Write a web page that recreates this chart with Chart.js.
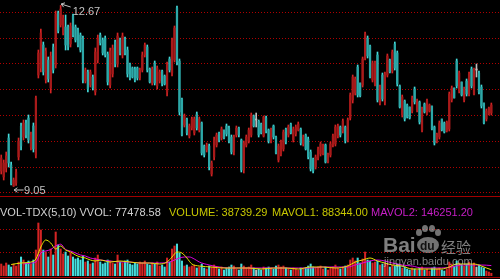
<!DOCTYPE html>
<html>
<head>
<meta charset="utf-8">
<script src="https://cdn.jsdelivr.net/npm/chart.js@4.4.1/dist/chart.umd.min.js"></script>
<style>
  html, body { margin: 0; padding: 0; background: #000; width: 500px; height: 279px; overflow: hidden; }
  #wrap { position: relative; width: 500px; height: 279px; }
  #kline { position: absolute; left: 0; top: 0; }
  #vol { position: absolute; left: 0; top: 196px; }
  .rule { position: absolute; left: 0; width: 500px; height: 1px; background: #a00000; }
  .hdr { position: absolute; top: 207px; font: 11px "Liberation Sans", Arial, sans-serif; line-height: 11px; white-space: pre; }
  .wm { position: absolute; color: rgba(205, 205, 205, 0.62); font-family: "Liberation Sans", Arial, sans-serif; white-space: pre; }
  .paw { position: absolute; background: rgba(190, 190, 190, 0.6); border-radius: 50%; }
</style>
</head>
<body>
<div id="wrap">
  <canvas id="kline" width="500" height="196"></canvas>
  <canvas id="vol" width="500" height="83"></canvas>
  <div class="rule" style="top:196px"></div>
  <div class="rule" style="top:277px"></div>
  <div class="hdr" style="left:0;color:#d2d2d2">VOL-TDX(5,10) VVOL: 77478.58</div>
  <div class="hdr" style="left:169px;color:#c8c800">VOLUME: 38739.29</div>
  <div class="hdr" style="left:272px;color:#c8c800">MAVOL1: 88344.00</div>
  <div class="hdr" style="left:371px;color:#c81ec8">MAVOL2: 146251.20</div>
  <!-- baidu watermark -->
  <div class="wm" style="left:383px;top:233px;font-weight:bold;font-size:21px">Bai</div>
  <div class="paw" style="left:417px;top:237px;width:22px;height:16px"></div>
  <div class="paw" style="left:416px;top:229px;width:6px;height:7px"></div>
  <div class="paw" style="left:422px;top:225px;width:6px;height:7px"></div>
  <div class="paw" style="left:429px;top:225px;width:6px;height:7px"></div>
  <div class="paw" style="left:435px;top:229px;width:6px;height:7px"></div>
  <div class="wm" style="left:420px;top:239px;font-size:12px;font-weight:bold;color:#111">du</div>
  <div class="wm" style="left:441px;top:236px;font-size:15px;font-family:'Noto Sans CJK SC',sans-serif">经验</div>
  <div class="wm" style="left:384px;top:255px;font-size:11px">jingyan.baidu.com</div>
</div>
<script>
// K线数据 (自左向右, 共199根)
const openPrices = [
  9.36, 9.24, 9.42, 10.02, 9.48, 9.06, 9.12, 9.64, 10.26, 10.04,
  10.32, 10.42, 9.84, 10.26, 9.68, 11.28, 11.42, 11.88, 11.18, 11.58,
  11.02, 11.84, 11.48, 12.52, 12.28, 12.12, 12.24, 12.24, 11.90, 12.46,
  12.24, 12.18, 12.08, 12.02, 11.16, 11.34, 11.08, 11.24, 10.94, 11.58,
  12.08, 11.98, 12.02, 11.70, 11.08, 11.30, 11.94, 11.50, 11.98, 11.68,
  12.00, 11.78, 11.50, 11.42, 11.40, 11.42, 11.22, 11.38, 11.68, 11.84,
  11.40, 11.12, 11.52, 11.06, 11.16, 11.36, 11.26, 10.94, 11.60, 11.32,
  11.58, 12.62, 11.56, 10.80, 10.28, 10.40, 10.06, 10.22, 10.12, 10.50,
  10.18, 10.32, 9.86, 9.78, 9.86, 9.30, 9.64, 9.88, 10.12, 10.02,
  10.18, 10.26, 10.22, 10.04, 9.74, 10.08, 10.22, 9.98, 9.38, 9.88,
  9.96, 10.08, 10.46, 10.38, 10.36, 10.30, 10.06, 10.42, 10.18, 9.96,
  10.26, 10.04, 9.58, 9.70, 9.80, 10.20, 10.08, 10.30, 9.98, 10.10,
  10.18, 10.20, 9.90, 10.08, 10.00, 9.74, 9.60, 9.44, 9.62, 9.70,
  9.72, 9.88, 9.54, 9.68, 9.88, 9.90, 10.06, 10.24, 10.16, 10.24,
  9.98, 10.42, 10.78, 10.92, 11.44, 11.12, 11.08, 11.62, 12.02, 11.86,
  11.18, 11.10, 11.68, 10.72, 11.28, 10.74, 11.28, 11.58, 11.36, 11.90,
  11.72, 11.06, 10.48, 10.76, 10.68, 10.64, 10.56, 11.00, 10.58, 10.74,
  10.18, 10.70, 10.52, 10.56, 10.66, 10.24, 9.96, 10.04, 10.40, 10.32,
  10.16, 10.20, 10.78, 11.02, 11.56, 10.96, 11.14, 10.78, 11.16, 10.90,
  11.40, 10.90, 11.38, 11.32, 11.04, 10.72, 10.40, 10.50, 10.52
];
const highPrices = [
  9.68, 9.58, 9.74, 10.10, 9.54, 9.22, 9.40, 10.02, 10.32, 10.38,
  10.38, 10.48, 10.14, 10.32, 10.86, 11.78, 12.20, 11.94, 11.82, 11.64,
  11.74, 11.90, 12.56, 12.56, 12.67, 12.48, 12.48, 12.28, 12.32, 12.50,
  12.28, 12.22, 12.12, 12.06, 11.42, 11.38, 11.38, 11.28, 11.82, 12.08,
  12.12, 12.02, 12.06, 11.74, 11.82, 11.88, 11.98, 12.12, 12.02, 12.12,
  12.04, 11.84, 11.52, 11.44, 11.44, 11.44, 11.42, 11.74, 11.92, 11.88,
  11.42, 11.44, 11.56, 11.46, 11.38, 11.38, 11.28, 11.54, 11.64, 12.02,
  12.26, 12.66, 11.60, 10.82, 10.50, 10.42, 10.30, 10.44, 10.44, 10.54,
  10.44, 10.34, 9.88, 9.92, 9.90, 9.56, 10.04, 10.12, 10.14, 10.24,
  10.18, 10.30, 10.26, 10.08, 10.08, 10.26, 10.24, 10.00, 9.96, 10.08,
  10.22, 10.52, 10.48, 10.52, 10.38, 10.32, 10.46, 10.46, 10.20, 10.22,
  10.28, 10.06, 9.90, 9.98, 10.18, 10.22, 10.28, 10.32, 10.24, 10.28,
  10.34, 10.22, 10.08, 10.10, 10.04, 9.78, 9.62, 9.68, 9.84, 9.94,
  9.90, 9.90, 9.72, 9.94, 10.10, 10.28, 10.30, 10.26, 10.40, 10.26,
  10.42, 10.92, 11.28, 11.24, 11.48, 11.12, 11.64, 12.14, 12.06, 11.88,
  11.56, 11.56, 11.74, 11.08, 11.32, 11.34, 11.70, 11.60, 11.78, 11.94,
  11.76, 11.08, 10.88, 10.78, 10.70, 10.64, 10.86, 11.04, 10.80, 10.76,
  10.64, 10.72, 10.80, 10.70, 10.66, 10.26, 10.12, 10.36, 10.40, 10.34,
  10.36, 10.94, 11.06, 11.02, 11.60, 11.36, 11.14, 11.04, 11.20, 11.34,
  11.44, 11.42, 11.50, 11.36, 11.08, 10.72, 10.60, 10.64, 10.72
];
const lowPrices = [
  9.30, 9.18, 9.34, 9.44, 9.08, 9.05, 9.07, 9.58, 9.78, 9.98,
  10.02, 9.92, 9.78, 9.74, 9.62, 11.22, 11.34, 11.28, 11.12, 11.14,
  10.92, 11.32, 11.42, 12.12, 12.24, 12.08, 11.78, 11.78, 11.84, 12.04,
  11.94, 11.84, 11.74, 11.12, 11.12, 10.94, 11.04, 10.98, 10.88, 11.52,
  11.88, 11.68, 11.64, 11.08, 11.02, 11.24, 11.44, 11.44, 11.68, 11.62,
  11.68, 11.24, 11.18, 11.22, 11.14, 11.18, 11.18, 11.34, 11.64, 11.34,
  11.12, 11.08, 11.08, 11.00, 11.12, 11.06, 11.08, 10.86, 11.34, 11.26,
  11.54, 11.48, 10.48, 10.06, 10.24, 10.08, 10.02, 10.18, 10.08, 10.18,
  10.14, 9.68, 9.64, 9.74, 9.38, 9.26, 9.58, 9.84, 9.94, 9.98,
  10.00, 10.06, 9.92, 9.70, 9.68, 10.04, 10.04, 9.34, 9.32, 9.84,
  9.92, 10.04, 10.24, 10.24, 10.04, 10.10, 10.04, 10.12, 9.92, 9.92,
  10.00, 9.70, 9.54, 9.66, 9.76, 9.90, 10.04, 10.10, 9.94, 10.06,
  10.16, 9.88, 9.86, 9.78, 9.60, 9.36, 9.32, 9.40, 9.58, 9.66,
  9.68, 9.52, 9.52, 9.64, 9.84, 9.86, 10.02, 10.04, 10.12, 9.92,
  9.94, 10.38, 10.72, 10.88, 10.84, 10.84, 11.04, 11.58, 11.62, 11.22,
  11.14, 11.06, 10.74, 10.68, 10.76, 10.68, 11.24, 11.32, 11.32, 11.38,
  11.06, 10.62, 10.44, 10.36, 10.42, 10.40, 10.52, 10.70, 10.54, 10.30,
  10.14, 10.52, 10.48, 10.54, 10.18, 9.88, 9.92, 10.00, 10.16, 10.12,
  10.14, 10.16, 10.74, 10.82, 11.02, 10.92, 10.86, 10.74, 10.86, 10.86,
  11.02, 10.88, 11.24, 10.90, 10.62, 10.30, 10.36, 10.48, 10.48
];
const closePrices = [
  9.62, 9.52, 9.66, 9.52, 9.10, 9.18, 9.34, 9.96, 9.86, 10.32,
  10.08, 9.98, 10.08, 9.80, 10.82, 11.72, 12.12, 11.34, 11.76, 11.20,
  11.66, 11.38, 12.50, 12.16, 12.60, 12.42, 11.88, 11.84, 12.26, 12.08,
  11.98, 11.88, 11.78, 11.18, 11.38, 11.00, 11.34, 11.02, 11.74, 12.02,
  11.92, 11.72, 11.68, 11.14, 11.76, 11.82, 11.50, 12.06, 11.72, 12.06,
  11.72, 11.30, 11.22, 11.24, 11.18, 11.22, 11.38, 11.68, 11.88, 11.38,
  11.14, 11.40, 11.12, 11.42, 11.34, 11.10, 11.10, 11.48, 11.38, 11.96,
  12.22, 11.54, 10.54, 10.08, 10.46, 10.12, 10.26, 10.40, 10.40, 10.22,
  10.40, 9.72, 9.68, 9.88, 9.44, 9.52, 9.98, 10.08, 9.98, 10.20,
  10.02, 10.10, 9.96, 9.74, 10.04, 10.22, 10.08, 9.38, 9.92, 10.04,
  10.18, 10.48, 10.26, 10.38, 10.08, 10.12, 10.44, 10.16, 9.96, 10.18,
  10.04, 9.72, 9.86, 9.94, 10.14, 9.94, 10.24, 10.12, 10.20, 10.24,
  10.30, 9.92, 10.04, 9.80, 9.64, 9.40, 9.36, 9.64, 9.80, 9.90,
  9.86, 9.54, 9.70, 9.90, 10.06, 10.24, 10.26, 10.08, 10.36, 9.96,
  10.38, 10.88, 11.24, 11.20, 10.88, 10.86, 11.60, 12.10, 11.66, 11.24,
  11.52, 11.52, 10.78, 11.04, 10.80, 11.30, 11.66, 11.34, 11.74, 11.42,
  11.10, 10.64, 10.84, 10.40, 10.44, 10.42, 10.82, 10.74, 10.76, 10.34,
  10.60, 10.54, 10.76, 10.68, 10.20, 9.92, 10.10, 10.32, 10.18, 10.14,
  10.34, 10.90, 11.02, 10.82, 11.06, 11.32, 10.88, 11.00, 10.90, 11.30,
  11.06, 11.40, 11.38, 10.94, 10.66, 10.32, 10.56, 10.62, 10.68
];

// 成交量
const volumes = [
  168000, 140000, 182000, 154000, 126000, 168000, 140000, 196000, 266000, 224000,
  182000, 210000, 168000, 224000, 364000, 742000, 644000, 364000, 336000, 266000,
  378000, 294000, 616000, 434000, 378000, 308000, 336000, 280000, 322000, 266000,
  238000, 252000, 224000, 280000, 196000, 210000, 168000, 182000, 252000, 294000,
  196000, 168000, 182000, 224000, 210000, 182000, 168000, 294000, 196000, 182000,
  210000, 224000, 168000, 154000, 182000, 168000, 196000, 182000, 210000, 168000,
  154000, 182000, 168000, 196000, 140000, 154000, 126000, 252000, 196000, 378000,
  420000, 448000, 322000, 210000, 140000, 154000, 126000, 140000, 154000, 112000,
  126000, 168000, 112000, 98000, 140000, 126000, 154000, 112000, 98000, 126000,
  84000, 112000, 126000, 154000, 140000, 98000, 84000, 168000, 140000, 112000,
  126000, 154000, 112000, 84000, 98000, 84000, 126000, 112000, 126000, 112000,
  98000, 140000, 154000, 126000, 140000, 112000, 98000, 84000, 112000, 98000,
  84000, 112000, 98000, 112000, 140000, 168000, 126000, 112000, 126000, 140000,
  98000, 126000, 84000, 112000, 126000, 154000, 112000, 98000, 126000, 140000,
  154000, 224000, 252000, 210000, 252000, 182000, 238000, 336000, 224000, 210000,
  182000, 196000, 210000, 154000, 168000, 182000, 168000, 126000, 154000, 140000,
  168000, 140000, 112000, 126000, 98000, 84000, 112000, 98000, 84000, 112000,
  126000, 84000, 98000, 70000, 112000, 126000, 98000, 112000, 84000, 70000,
  98000, 196000, 168000, 140000, 210000, 182000, 154000, 140000, 168000, 196000,
  154000, 182000, 126000, 154000, 126000, 112000, 70000, 56000, 38739.29
];

// MAVOL1 (5) / MAVOL2 (10): [K线序号, 数值]
const mavol1 = [
  [4, 161000], [8, 182000], [12, 196000], [14, 238000], [16, 406000], [18, 504000],
  [20, 462000], [22, 378000], [24, 420000], [26, 364000], [28, 336000], [30, 294000],
  [32, 266000], [34, 252000], [36, 224000], [38, 210000], [40, 224000], [44, 196000],
  [48, 210000], [52, 196000], [56, 182000], [60, 182000], [64, 168000], [67, 196000],
  [69, 266000], [71, 336000], [73, 322000], [75, 252000], [77, 168000], [80, 140000],
  [85, 126000], [90, 112000], [95, 112000], [100, 112000], [105, 98000], [110, 112000],
  [115, 112000], [120, 98000], [125, 126000], [130, 126000], [135, 112000], [140, 140000],
  [143, 196000], [146, 224000], [149, 252000], [152, 210000], [155, 182000], [158, 154000],
  [162, 140000], [166, 98000], [170, 98000], [174, 98000], [178, 98000], [181, 126000],
  [184, 168000], [188, 168000], [191, 168000], [194, 140000], [196, 112000], [198, 88344]
];
const mavol2 = [
  [9, 168000], [12, 182000], [14, 196000], [16, 322000], [18, 350000], [20, 370000],
  [22, 420000], [24, 445000], [26, 371000], [28, 350000], [30, 322000], [32, 294000],
  [34, 280000], [36, 252000], [38, 238000], [40, 224000], [44, 210000], [48, 196000],
  [52, 196000], [56, 182000], [60, 182000], [64, 182000], [68, 196000], [70, 224000],
  [72, 252000], [74, 266000], [76, 266000], [78, 238000], [80, 196000], [84, 154000],
  [88, 126000], [92, 112000], [96, 112000], [100, 112000], [105, 112000], [110, 112000],
  [115, 112000], [120, 112000], [125, 112000], [130, 126000], [135, 126000], [140, 126000],
  [143, 154000], [146, 182000], [149, 210000], [152, 224000], [155, 210000], [158, 182000],
  [162, 154000], [166, 140000], [170, 112000], [174, 112000], [178, 112000], [182, 126000],
  [186, 154000], [190, 154000], [194, 154000], [198, 146251.2]
];

// 网格线位置
const priceGrid = [12.52, 12.01, 11.50, 10.98, 10.47, 9.95, 9.44, 8.93];
const volGrid = [336000, 658000];

const slots = [];
for (let i = 0; i < 202; i++) slots.push(i); // 右侧留空

const UP = '#d42424', UP_BODY = '#a81a1a';
const DOWN = '#44dcdc', DOWN_BODY = '#2ca8a8';
const FLAT = '#bdbdbd';

function candleColor(i, body) {
  if (closePrices[i] > openPrices[i]) return body ? UP_BODY : UP;
  if (closePrices[i] < openPrices[i]) return body ? DOWN_BODY : DOWN;
  return FLAT;
}

// 最高价 / 最低价标注
const extremeMarks = {
  id: 'extremeMarks',
  afterDatasetsDraw(chart) {
    const {ctx, scales: {x, y}} = chart;
    const hi = highPrices.indexOf(Math.max(...highPrices));
    const lo = lowPrices.indexOf(Math.min(...lowPrices));

    function arrow(tx, ty, ex, ey) {
      const a = Math.atan2(ey - ty, ex - tx);
      ctx.beginPath();
      ctx.moveTo(tx, ty); ctx.lineTo(ex, ey);
      ctx.moveTo(tx, ty); ctx.lineTo(tx + 4 * Math.cos(a + 0.6), ty + 4 * Math.sin(a + 0.6));
      ctx.moveTo(tx, ty); ctx.lineTo(tx + 4 * Math.cos(a - 0.6), ty + 4 * Math.sin(a - 0.6));
      ctx.stroke();
    }

    ctx.save();
    ctx.strokeStyle = '#c4c4c4';
    ctx.fillStyle = '#c4c4c4';
    ctx.lineWidth = 1;
    ctx.font = '11px "Liberation Sans", Arial, sans-serif';
    ctx.textBaseline = 'alphabetic';

    let px = x.getPixelForValue(hi), py = y.getPixelForValue(highPrices[hi]);
    arrow(px + 0.5, py - 1.5, px + 10, py + 1.5);
    ctx.fillText(highPrices[hi].toFixed(2), px + 12, py + 9.5);

    px = x.getPixelForValue(lo); py = y.getPixelForValue(lowPrices[lo]);
    arrow(px + 0.5, py + 3.5, px + 10, py + 3.5);
    ctx.fillText(lowPrices[lo].toFixed(2), px + 10.5, py + 7.5);
    ctx.restore();
  }
};

new Chart(document.getElementById('kline'), {
  type: 'bar',
  data: {
    labels: slots,
    datasets: [
      {
        // 实体
        data: openPrices.map((o, i) => [o, closePrices[i]]),
        backgroundColor: openPrices.map((o, i) => candleColor(i, true)),
        barThickness: 1.6,
        minBarLength: 1,
        grouped: false
      },
      {
        // 影线
        data: lowPrices.map((l, i) => [l, highPrices[i]]),
        backgroundColor: lowPrices.map((l, i) => candleColor(i, false)),
        barThickness: 1,
        grouped: false
      }
    ]
  },
  options: {
    responsive: false,
    animation: false,
    events: [],
    layout: { padding: 0 },
    plugins: { legend: { display: false }, tooltip: { enabled: false } },
    scales: {
      x: { display: false },
      y: {
        min: 8.86,
        max: 12.78,
        afterBuildTicks: s => { s.ticks = priceGrid.map(v => ({ value: v })); },
        ticks: { display: false },
        grid: { color: '#b00000', lineWidth: 1, drawTicks: false },
        border: { display: false, dash: [1, 2] }
      }
    }
  },
  plugins: [extremeMarks]
});

new Chart(document.getElementById('vol'), {
  type: 'bar',
  data: {
    labels: slots,
    datasets: [
      {
        type: 'line',
        data: mavol1.map(p => ({ x: p[0], y: p[1] })),
        borderColor: '#e6e600',
        borderWidth: 1,
        pointRadius: 0,
        cubicInterpolationMode: 'monotone'
      },
      {
        type: 'line',
        data: mavol2.map(p => ({ x: p[0], y: p[1] })),
        borderColor: '#e000e0',
        borderWidth: 1,
        pointRadius: 0,
        cubicInterpolationMode: 'monotone'
      },
      {
        data: volumes,
        backgroundColor: volumes.map((v, i) => candleColor(i, false)),
        barThickness: 1.4
      }
    ]
  },
  options: {
    responsive: false,
    animation: false,
    events: [],
    layout: { padding: { top: 22, bottom: 3, left: 0, right: 0 } },
    plugins: { legend: { display: false }, tooltip: { enabled: false } },
    scales: {
      x: { display: false },
      y: {
        min: 0,
        max: 812000,
        afterBuildTicks: s => { s.ticks = volGrid.map(v => ({ value: v })); },
        ticks: { display: false },
        grid: { color: '#b00000', lineWidth: 1, drawTicks: false },
        border: { display: false, dash: [1, 2] }
      }
    }
  }
});
</script>
</body>
</html>
